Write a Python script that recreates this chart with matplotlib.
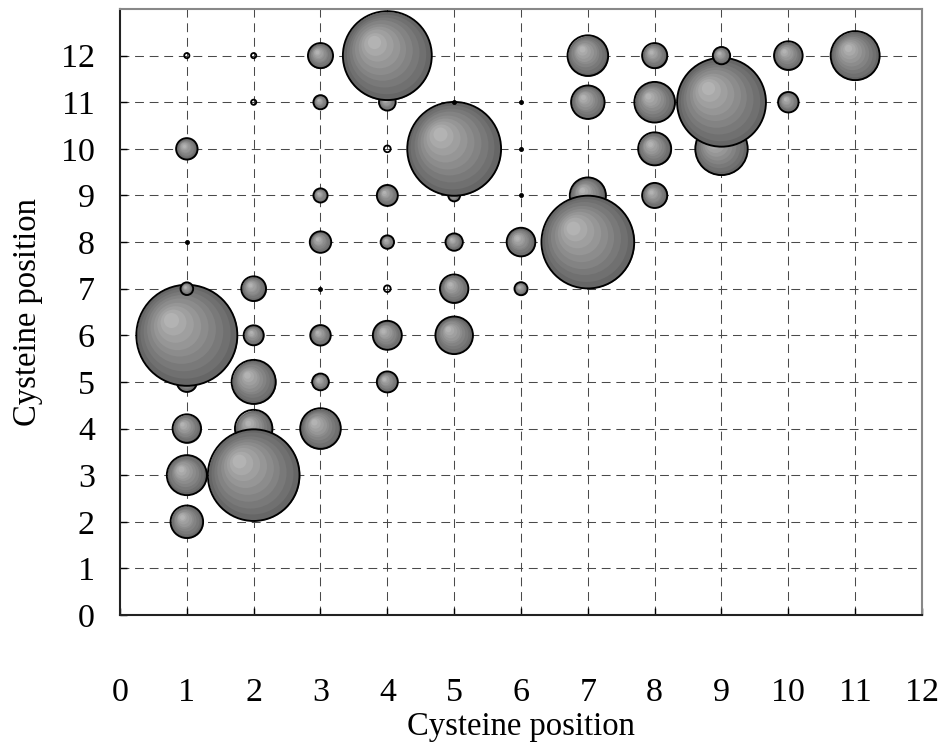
import numpy as np
import matplotlib
matplotlib.use("Agg")
import matplotlib.pyplot as plt
from matplotlib.transforms import ScaledTranslation

# bubble data (x, y, value); value is shown as bubble area
# listed in drawing order (later ones sit on top)
xs = [1, 2, 3,
      3, 4, 5, 7, 8,
      1,
      1, 2,
      1, 2, 3, 4,
      1, 2, 3, 4, 5,
      1, 2, 5, 6,
      3, 4, 5, 6, 7,
      1, 5, 8, 9,
      3, 4, 7, 8, 9, 10,
      3, 4, 7, 8, 9, 10, 11]
ys = [4, 4, 4,
      9, 9, 9, 9, 9,
      2,
      3, 3,
      5, 5, 5, 5,
      6, 6, 6, 6, 6,
      7, 7, 7, 7,
      8, 8, 8, 8, 8,
      10, 10, 10, 10,
      11, 11, 11, 11, 11, 11,
      12, 12, 12, 12, 12, 12, 12]
vals = [8.1, 14.0, 16.5,
        2.0, 4.4, 1.4, 13.0, 6.3,
        10.6,
        16.0, 84.0,
        4.0, 19.4, 2.8, 4.4,
        102.0, 4.0, 4.2, 8.4, 14.1,
        1.6, 6.1, 8.1, 1.7,
        4.6, 1.8, 3.0, 8.2, 86.0,
        4.6, 88.0, 10.9, 27.5,
        2.0, 2.8, 11.2, 16.5, 79.0, 4.2,
        6.3, 79.0, 16.5, 6.3, 3.0, 8.2, 24.0]

# very small values drawn as plain dots / open rings
dot_x = [1, 3, 5, 6, 6, 6]
dot_y = [8, 7, 11, 11, 10, 9]
ring_x = [1, 2, 2, 4, 4]
ring_y = [12, 12, 11, 10, 7]
ring_vals = [0.27, 0.27, 0.27, 0.45, 0.45]

ticks = list(range(0, 13))
label = "Cysteine position"

plt.rcParams['font.family'] = ['Liberation Serif', 'DejaVu Serif']

dpi = 100
fig = plt.figure(figsize=(9.45, 7.51), dpi=dpi)
ax = fig.add_axes([120/945, 1 - 615/751, 802/945, 606/751])
ax.set_xlim(0, 12)
ax.set_ylim(0, 13)

# grid
for t in range(1, 12):
    ax.axvline(t, color="#4a4a4a", lw=0.75, dashes=(8.5, 5.5), zorder=0)
for t in range(1, 13):
    ax.axhline(t, color="#4a4a4a", lw=0.75, dashes=(8.5, 5.5), zorder=0)

nb = 9
z = 2
for x, y, v in zip(xs, ys, vals):
    r = 5.0 * np.sqrt(v)  # radius in pixels
    for k in range(nb):
        t = k / (nb - 1)
        rk = r * (1 - 0.85 * t)
        off = ScaledTranslation(-0.31 * r * t / dpi, 0.31 * r * t / dpi,
                                fig.dpi_scale_trans)
        g = 0.40 + 0.30 * t
        ax.scatter([x], [y], s=(2 * rk * 72 / dpi) ** 2, color=(g, g, g),
                   lw=0, transform=ax.transData + off, zorder=z)
        z += 1
    ax.scatter([x], [y], s=(2 * r * 72 / dpi) ** 2, facecolor="none",
               edgecolor="black", lw=1.35, zorder=z)
    z += 1

ax.scatter(dot_x, dot_y, s=(2 * 2.0 * 72 / dpi) ** 2, color="black",
           lw=0.6, edgecolor="black", zorder=z)
ax.scatter(ring_x, ring_y, s=[(2 * 5 * np.sqrt(v) * 72 / dpi) ** 2 for v in ring_vals],
           facecolor="none", edgecolor="black", lw=1.3, zorder=z)

# axes look
for side in ["top", "right"]:
    ax.spines[side].set_color("#888888")
    ax.spines[side].set_linewidth(1.5)
for side in ["left", "bottom"]:
    ax.spines[side].set_color("#222222")
    ax.spines[side].set_linewidth(1.5)

ax.set_xticks(ticks)
ax.set_yticks(ticks)
ax.tick_params(axis="x", direction="in", length=5, width=1, pad=45,
               labelsize=24.5)
ax.tick_params(axis="y", direction="in", length=5, width=1, pad=18,
               labelsize=24.5)

ax.set_xlabel(label, fontsize=23.5)
ax.set_ylabel(label, fontsize=23.5)
ax.xaxis.set_label_coords(0.5, -0.185)
ax.yaxis.set_label_coords(-0.115, 0.5)
ax.xaxis.label.set_va("center")
ax.yaxis.label.set_va("center")

fig.savefig("out.png", dpi=dpi)
